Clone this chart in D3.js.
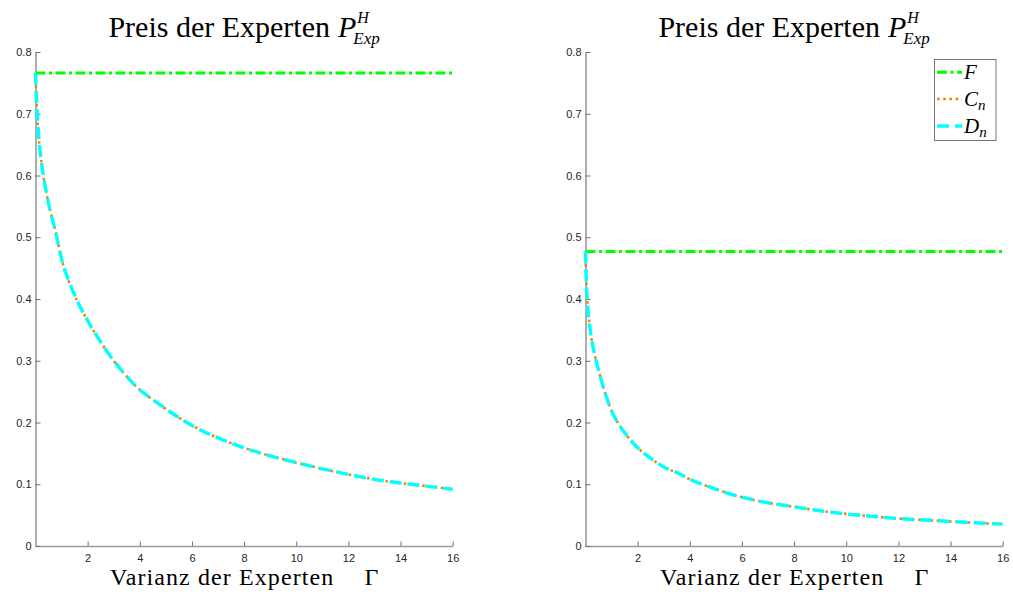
<!DOCTYPE html>
<html><head><meta charset="utf-8">
<script src="https://cdn.jsdelivr.net/npm/d3@7"></script>
<style>body{margin:0;background:#fff} svg{display:block}</style>
</head><body>
<svg id="c" width="1013" height="592"></svg>
<script>
// ---- data ----
const gammaX = [0, 0.05, 0.15, 0.3, 0.5, 0.75, 1.1, 1.6, 2, 2.4, 3, 3.6, 4, 5, 6, 7, 8, 9, 10, 11, 12, 13, 14, 15, 16];
const fX = [0, 16];
const fLeft  = [0.766, 0.766];
const cLeft  = [0.766, 0.71, 0.65, 0.60, 0.555, 0.512, 0.45, 0.397, 0.365, 0.337, 0.30, 0.27, 0.253, 0.222, 0.195, 0.175, 0.159, 0.146, 0.135, 0.125, 0.116, 0.108, 0.102, 0.097, 0.092];
const dLeft  = [0.766, 0.71, 0.65, 0.60, 0.555, 0.512, 0.45, 0.397, 0.365, 0.337, 0.30, 0.27, 0.253, 0.222, 0.195, 0.175, 0.159, 0.146, 0.135, 0.125, 0.116, 0.108, 0.102, 0.097, 0.092];
const fRight = [0.477, 0.477];
const cRight = [0.477, 0.41, 0.36, 0.32, 0.285, 0.248, 0.21, 0.178, 0.159, 0.145, 0.128, 0.117, 0.108, 0.092, 0.079, 0.070, 0.0635, 0.057, 0.052, 0.048, 0.0445, 0.042, 0.0398, 0.0375, 0.0355];
const dRight = [0.477, 0.41, 0.36, 0.32, 0.285, 0.248, 0.21, 0.178, 0.159, 0.145, 0.128, 0.117, 0.108, 0.092, 0.079, 0.070, 0.0635, 0.057, 0.052, 0.048, 0.0445, 0.042, 0.0398, 0.0375, 0.0355];
const xTicks = [2, 4, 6, 8, 10, 12, 14, 16];
const yTicks = [0, 0.1, 0.2, 0.3, 0.4, 0.5, 0.6, 0.7, 0.8];
const yTickLabels = ["0", "0.1", "0.2", "0.3", "0.4", "0.5", "0.6", "0.7", "0.8"];
const titleText = "Preis der Experten";
const titleSym = "P", titleSup = "H", titleSub = "Exp";
const xLabelText = "Varianz der Experten";
const xLabelSym = "\u0393";
const legendNames = [["F", ""], ["C", "n"], ["D", "n"]];

// ---- styles ----
const colF = "#00ff00", colC = "#ff8000", colD = "#00ffff";
const serif = "'Liberation Serif', 'DejaVu Serif', serif";
const sans = "'Liberation Sans', Arial, sans-serif";
const axisCol = "#9a9a9a", textCol = "#262626";

const svg = d3.select("#c");
const panels = [
  {x0: 35.5, x1: 452.7, F: fLeft, C: cLeft, D: dLeft, legend: false},
  {x0: 585.5, x1: 1002.7, F: fRight, C: cRight, D: dRight, legend: true}
];
const yTop = 52, yBot = 546;

function styleLine(sel, key) {
  if (key === "F") sel.attr("stroke", colF).attr("stroke-width", 3).attr("stroke-dasharray", "10,3.5,3,3.5");
  if (key === "C") sel.attr("stroke", colC).attr("stroke-width", 2.6).attr("stroke-dasharray", "2.6,3.6");
  if (key === "D") sel.attr("stroke", colD).attr("stroke-width", 3.4).attr("stroke-dasharray", "12,6");
  return sel.attr("fill", "none");
}

panels.forEach(p => {
  const x = d3.scaleLinear().domain([0, 16]).range([p.x0, p.x1]);
  const y = d3.scaleLinear().domain([0, 0.8]).range([yBot, yTop]);
  const g = svg.append("g");

  // axes
  const ax = g.append("g").attr("transform", `translate(0,${yBot})`)
    .call(d3.axisBottom(x).tickValues(xTicks).tickSizeInner(-4.5).tickSizeOuter(0).tickPadding(8.5).tickFormat(d3.format("d")));
  const ay = g.append("g").attr("transform", `translate(${p.x0},0)`)
    .call(d3.axisLeft(y).tickValues(yTicks).tickSizeInner(-5).tickSizeOuter(0).tickPadding(4)
      .tickFormat((d, i) => yTickLabels[i]));
  [ax, ay].forEach(a => {
    a.select(".domain").attr("stroke", axisCol).attr("stroke-width", 1.6);
    a.selectAll(".tick line").attr("stroke", "#707070").attr("stroke-width", 1);
    a.selectAll(".tick text").attr("fill", textCol).style("font-family", sans).style("font-size", "11px");
  });

  // lines
  const lineF = d3.line().x((d, i) => x(fX[i])).y(d => y(d));
  const lineCurve = d3.line().x((d, i) => x(gammaX[i])).y(d => y(d)).curve(d3.curveCatmullRom.alpha(0.5));
  styleLine(g.append("path").attr("d", lineF(p.F)), "F");
  styleLine(g.append("path").attr("d", lineCurve(p.C)), "C");
  styleLine(g.append("path").attr("d", lineCurve(p.D)), "D");

  // title
  const tg = g.append("g").style("font-family", serif).attr("fill", "#000");
  const t1 = tg.append("text").attr("x", 0).attr("y", 0).style("font-size", "30px").text(titleText);
  const w1 = t1.node().getComputedTextLength() + 8;
  const t2 = tg.append("text").attr("x", w1).attr("y", 0).style("font-size", "30px").style("font-style", "italic").text(titleSym);
  const w2 = t2.node().getComputedTextLength();
  const t3 = tg.append("text").attr("x", w1 + w2 + 1).attr("y", -14).style("font-size", "16px").style("font-style", "italic").text(titleSup);
  const t4 = tg.append("text").attr("x", w1 + w2 - 3).attr("y", 6.5).style("font-size", "17px").style("font-style", "italic").text(titleSub);
  const wT = w1 + w2 - 3 + Math.max(t3.node().getComputedTextLength() + 4, t4.node().getComputedTextLength());
  tg.attr("transform", `translate(${(p.x0 + p.x1) / 2 - wT / 2},37)`);

  // x label
  const lg = g.append("g").style("font-family", serif).attr("fill", "#000").style("font-size", "24px");
  const l1 = lg.append("text").attr("x", 0).attr("y", 0).style("letter-spacing", "1.1px").text(xLabelText);
  const lw = l1.node().getComputedTextLength();
  const l2 = lg.append("text").attr("x", lw + 30).attr("y", 0).text(xLabelSym);
  const lwT = lw + 30 + l2.node().getComputedTextLength();
  lg.attr("transform", `translate(${(p.x0 + p.x1) / 2 - lwT / 2},585)`);

  // legend
  if (p.legend) {
    const leg = g.append("g");
    leg.append("rect").attr("x", 934.5).attr("y", 59.5).attr("width", 61.5).attr("height", 81)
      .attr("fill", "#fff").attr("stroke", "#555").attr("stroke-width", 0.8);
    const keys = ["F", "C", "D"];
    const rowY = [72.3, 99, 126];
    keys.forEach((k, i) => {
      styleLine(leg.append("line").attr("x1", 937).attr("x2", 962).attr("y1", rowY[i]).attr("y2", rowY[i]), k);
      const tx = leg.append("text").attr("x", 964).attr("y", rowY[i] + 6.5)
        .style("font-family", serif).style("font-style", "italic").style("font-size", "21px").attr("fill", "#000");
      tx.append("tspan").text(legendNames[i][0]);
      if (legendNames[i][1]) tx.append("tspan").attr("dy", 4.5).style("font-size", "15px").text(legendNames[i][1]);
    });
  }
});
</script>
</body></html>
